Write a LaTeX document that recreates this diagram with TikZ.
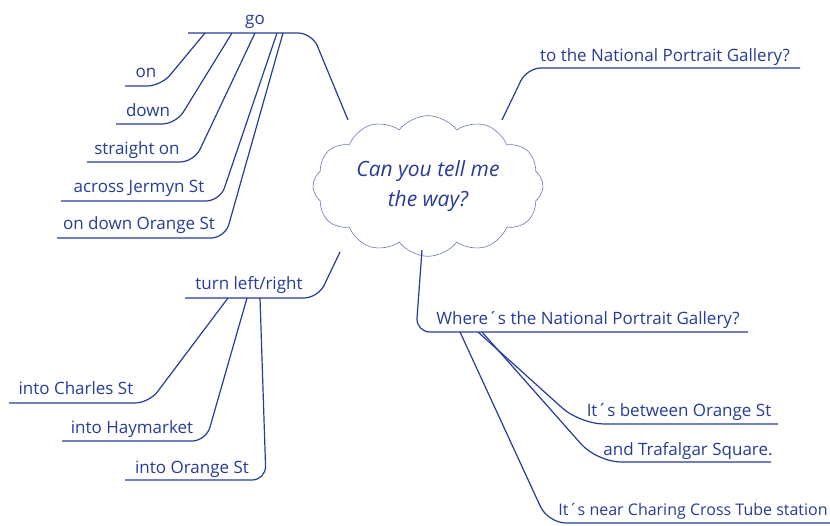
\documentclass[tikz,border=0pt]{standalone}
\usepackage{fontspec}
\setmainfont{Open Sans}
\usetikzlibrary{shapes.symbols}
\definecolor{inkblue}{RGB}{38,60,150}
\definecolor{cloudblue}{RGB}{105,120,190}
\tikzset{
  branch/.style={draw=inkblue, line width=1.2pt, rounded corners=14pt},
  lbl/.style={text=inkblue, anchor=base, inner sep=0pt, font=\fontsize{17}{20}\selectfont},
  bubble/.style={cloud, cloud puffs=12, cloud puff arc=105, aspect=1.8, draw=cloudblue,
    line width=0.6pt, minimum width=230pt, minimum height=126pt, align=center,
    text=inkblue, font=\fontsize{21}{30}\selectfont\itshape}
}
\begin{document}
\begin{tikzpicture}[x=1pt, y=-1pt]
\useasboundingbox (0,0) rectangle (830,526);

% centre
\node[bubble] (way) at (428,186) {Can you tell me\\the way?};

% go branch
\coordinate (go-l) at (188,33);
\coordinate (go-r) at (312,33);
\coordinate (go-end) at (348,120);
\node[lbl] (go) at (255,25) {go};
\draw[branch] (go-l) -- (go-r) -- (go-end);

\coordinate (on-l) at (125,86);
\coordinate (on-r) at (161,86);
\coordinate (go-1) at (205,33);
\node[lbl] (on) at (146,78) {on};
\draw[branch] (on-l) -- (on-r) -- (go-1);

\coordinate (down-l) at (116,124);
\coordinate (down-r) at (176,124);
\coordinate (go-2) at (232,33);
\node[lbl] (down) at (148,117) {down};
\draw[branch] (down-l) -- (down-r) -- (go-2);

\coordinate (straight-l) at (87,162);
\coordinate (straight-r) at (194,162);
\coordinate (go-3) at (255,33);
\node[lbl] (straight) at (137,155) {straight on};
\draw[branch] (straight-l) -- (straight-r) -- (go-3);

\coordinate (across-l) at (61,201);
\coordinate (across-r) at (220,201);
\coordinate (go-4) at (277,33);
\node[lbl] (across) at (139,193) {across Jermyn St};
\draw[branch] (across-l) -- (across-r) -- (go-4);

\coordinate (ondown-l) at (57,238);
\coordinate (ondown-r) at (225,238);
\coordinate (go-5) at (283,33);
\node[lbl] (ondown) at (139,230) {on down Orange St};
\draw[branch] (ondown-l) -- (ondown-r) -- (go-5);

% turn left/right branch
\coordinate (turn-l) at (185,298);
\coordinate (turn-r) at (318,298);
\coordinate (turn-end) at (340,252);
\node[lbl] (turn) at (249,290) {turn left/right};
\draw[branch] (turn-l) -- (turn-r) -- (turn-end);

\coordinate (charles-l) at (9,403);
\coordinate (charles-r) at (149,403);
\coordinate (turn-1) at (228,298);
\node[lbl] (charles) at (76,395) {into Charles St};
\draw[branch] (charles-l) -- (charles-r) -- (turn-1);

\coordinate (haymarket-l) at (62,441);
\coordinate (haymarket-r) at (206,441);
\coordinate (turn-2) at (247,298);
\node[lbl] (haymarket) at (132,433) {into Haymarket};
\draw[branch] (haymarket-l) -- (haymarket-r) -- (turn-2);

\coordinate (orangest-l) at (125,480);
\coordinate (orangest-r) at (266,480);
\coordinate (turn-3) at (260,298);
\node[lbl] (orangest) at (192,473) {into Orange St};
\draw[branch] (orangest-l) -- (orangest-r) -- (turn-3);

% to the gallery
\coordinate (gallery-end) at (502,120);
\coordinate (gallery-c) at (527,68);
\coordinate (gallery-r) at (800,68);
\node[lbl] (gallery) at (665,62) {to the National Portrait Gallery?};
\draw[branch] (gallery-end) -- (gallery-c) -- (gallery-r);

% where branch
\coordinate (where-end) at (422,250);
\coordinate (where-c) at (416,332);
\coordinate (where-r) at (748,332);
\node[lbl] (where) at (588,325) {Where´s the National Portrait Gallery?};
\draw[branch] (where-end) -- (where-c) -- (where-r);

\coordinate (between-c) at (580,424);
\coordinate (between-r) at (778,424);
\coordinate (where-1) at (478,332);
\node[lbl] (between) at (679,417) {It´s between Orange St};
\draw[branch, rounded corners=24pt] (between-r) -- (between-c) -- (where-1);

\coordinate (trafalgar-c) at (597,462);
\coordinate (trafalgar-r) at (771,462);
\coordinate (where-2) at (482,332);
\node[lbl] (trafalgar) at (688,455) {and Trafalgar Square.};
\draw[branch, rounded corners=24pt] (trafalgar-r) -- (trafalgar-c) -- (where-2);

\coordinate (charing-c) at (548,523);
\coordinate (charing-r) at (830,523);
\coordinate (where-3) at (460,332);
\node[lbl, font=\fontsize{16}{20}\selectfont] (charing) at (693,515) {It´s near Charing Cross Tube station};
\draw[branch, rounded corners=18pt] (charing-r) -- (charing-c) -- (where-3);
\end{tikzpicture}
\end{document}
